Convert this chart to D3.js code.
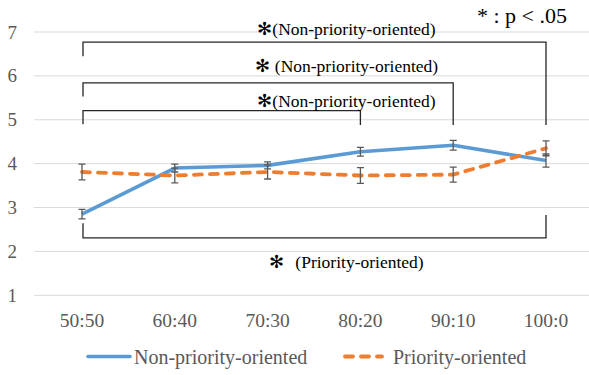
<!DOCTYPE html>
<html>
<head>
<meta charset="utf-8">
<script src="https://cdn.jsdelivr.net/npm/d3@7"></script>
</head>
<body style="margin:0">
<svg id="chart" width="589" height="375"></svg>
<script>
// Ratio conditions on the x axis
const categories = ["50:50", "60:40", "70:30", "80:20", "90:10", "100:0"];
// Mean scores per group
const nonPriority = [2.85, 3.90, 3.96, 4.27, 4.42, 4.07];
const priority    = [3.81, 3.73, 3.81, 3.73, 3.75, 4.35];
// Error bar half-widths
const nonPriorityErr = [0.11, 0.09, 0.08, 0.10, 0.11, 0.15];
const priorityErr    = [0.18, 0.17, 0.16, 0.18, 0.17, 0.17];
const yTicks = [1, 2, 3, 4, 5, 6, 7];
const seriesNames = ["Non-priority-oriented", "Priority-oriented"];
const colors = ["#5B9BD5", "#ED7D31"];

// Significance brackets: from/to category index, bar level, leg ends (data units)
const brackets = [
  { from: 0, to: 5, level: 6.77, legFrom: 6.45, legTo: 4.88, label: "(Non-priority-oriented)", gap: 0, labelY: 7.07 },
  { from: 0, to: 4, level: 5.84, legFrom: 5.53, legTo: 4.88, label: "(Non-priority-oriented)", gap: 5, labelY: 6.23 },
  { from: 0, to: 3, level: 5.21, legFrom: 4.90, legTo: 4.88, label: "(Non-priority-oriented)", gap: 0, labelY: 5.43 },
  { from: 0, to: 5, level: 2.31, legFrom: 2.64, legTo: 2.83, label: "(Priority-oriented)", gap: 11, labelY: 1.77 }
];

const SERIF = "'Liberation Serif'";
const svg = d3.select("#chart").style("font-family", SERIF);
const W = 589;

const x = d3.scaleBand().domain(categories).range([35.6, 592.4]);
const cx = c => x(c) + x.bandwidth() / 2;
const y = d3.scaleLinear().domain([1, 7]).range([295.3, 32]);
const xi = d3.scaleLinear().domain([0, categories.length - 1])
  .range([cx(categories[0]), cx(categories[categories.length - 1])]);

// Gridlines
svg.selectAll("line.grid").data(yTicks).join("line").attr("class", "grid")
  .attr("x1", 34).attr("x2", W)
  .attr("y1", d => y(d)).attr("y2", d => y(d))
  .attr("stroke", "#d9d9d9").attr("stroke-width", 1);

// Y tick labels
svg.selectAll("text.ytick").data(yTicks).join("text").attr("class", "ytick")
  .style("font-family", SERIF)
  .attr("x", 17).attr("y", d => y(d) + 6.5)
  .attr("text-anchor", "end")
  .attr("font-size", 19).attr("fill", "#595959")
  .text(d => d);

// X tick labels
svg.selectAll("text.xtick").data(categories).join("text").attr("class", "xtick")
  .style("font-family", SERIF)
  .attr("x", d => cx(d)).attr("y", 327)
  .attr("text-anchor", "middle")
  .attr("font-size", 19.5).attr("fill", "#595959")
  .text(d => d);

// Brackets
brackets.forEach(b => {
  const x0 = xi(b.from) + 1, x1 = xi(b.to);
  svg.append("path")
    .attr("d", `M${x0},${y(b.legFrom)}V${y(b.level)}H${x1}V${y(b.legTo)}`)
    .attr("fill", "none").attr("stroke", "#262626").attr("stroke-width", 1.3);
});
const sig = svg.selectAll("text.sig").data(brackets).join("text").attr("class", "sig")
  .style("font-family", SERIF)
  .attr("x", xi(2.85)).attr("y", d => y(d.labelY) + 6)
  .attr("text-anchor", "middle")
  .attr("font-size", 17.5).attr("fill", "#000");
sig.append("tspan").text("✻");
sig.append("tspan").attr("dx", d => d.gap).text(d => d.label);

// Significance note
svg.append("text")
  .style("font-family", SERIF)
  .attr("x", 522).attr("y", 22.5)
  .attr("text-anchor", "middle").attr("font-size", 22).attr("fill", "#000")
  .text("* : p < .05");

// Lines
const line = d3.line().x((d, i) => cx(categories[i])).y(d => y(d));
svg.append("path").datum(nonPriority)
  .attr("d", line).attr("fill", "none")
  .attr("stroke", colors[0]).attr("stroke-width", 3.6).attr("stroke-linejoin", "round");
svg.append("path").datum(priority)
  .attr("d", line).attr("fill", "none")
  .attr("stroke", colors[1]).attr("stroke-width", 3.8)
  .attr("stroke-dasharray", "8,8").attr("stroke-linecap", "round").attr("stroke-linejoin", "round");

// Error bars
function errorBars(vals, errs) {
  vals.forEach((v, i) => {
    const px = cx(categories[i]);
    const t = y(v + errs[i]), b = y(v - errs[i]);
    svg.append("path")
      .attr("d", `M${px},${t}V${b}M${px - 3.5},${t}H${px + 3.5}M${px - 3.5},${b}H${px + 3.5}`)
      .attr("fill", "none").attr("stroke", "#595959").attr("stroke-width", 1.3);
  });
}
errorBars(nonPriority, nonPriorityErr);
errorBars(priority, priorityErr);

// Legend
svg.append("line").attr("x1", 88).attr("x2", 130).attr("y1", 356.5).attr("y2", 356.5)
  .attr("stroke", colors[0]).attr("stroke-width", 3.6).attr("stroke-linecap", "round");
svg.append("text").style("font-family", SERIF)
  .attr("x", 134).attr("y", 364)
  .attr("font-size", 20).attr("fill", "#595959").text(seriesNames[0]);
svg.append("line").attr("x1", 345).attr("x2", 382).attr("y1", 356.5).attr("y2", 356.5)
  .attr("stroke", colors[1]).attr("stroke-width", 3.8)
  .attr("stroke-dasharray", "8,8").attr("stroke-linecap", "round");
svg.append("text").style("font-family", SERIF)
  .attr("x", 393).attr("y", 364)
  .attr("font-size", 20).attr("fill", "#595959").text(seriesNames[1]);
</script>
</body>
</html>
